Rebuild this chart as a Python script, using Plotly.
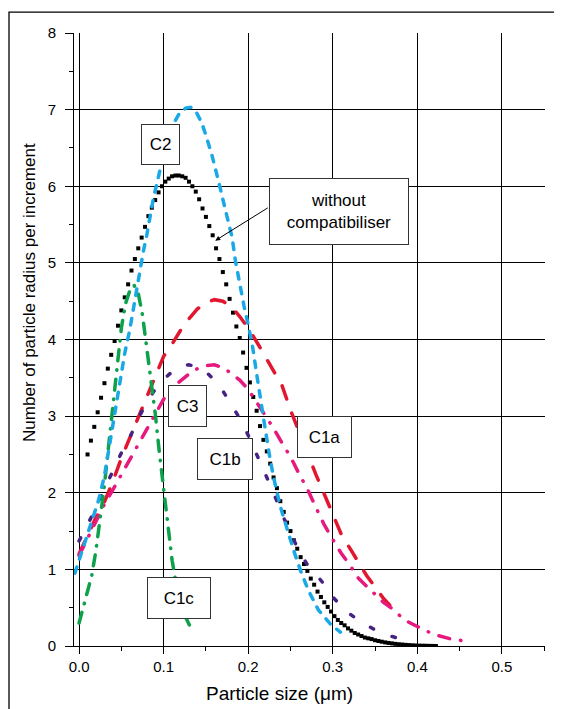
import plotly.graph_objects as go

# values: particle size (um) vs number per increment
black_x = [0.010, 0.014, 0.018, 0.022, 0.026, 0.030, 0.034, 0.038, 0.042, 0.046,
           0.050, 0.054, 0.058, 0.062, 0.066, 0.070, 0.074, 0.078, 0.082, 0.086,
           0.090, 0.094, 0.098, 0.102, 0.106, 0.110, 0.114, 0.118, 0.122, 0.126,
           0.130, 0.134, 0.138, 0.142, 0.146, 0.150, 0.154, 0.158, 0.162, 0.166,
           0.170, 0.174, 0.178, 0.182, 0.186, 0.190, 0.194, 0.198, 0.202, 0.206,
           0.210, 0.214, 0.218, 0.222, 0.226, 0.230, 0.234, 0.238, 0.242, 0.246,
           0.250, 0.254, 0.258, 0.262, 0.266, 0.270, 0.274, 0.278, 0.282, 0.286,
           0.290, 0.294, 0.298, 0.302, 0.306, 0.310, 0.314, 0.318, 0.322, 0.326,
           0.330, 0.334, 0.338, 0.342, 0.346, 0.350, 0.354, 0.358, 0.362, 0.366,
           0.370, 0.374, 0.378, 0.382, 0.386, 0.390, 0.394, 0.398, 0.402, 0.406,
           0.410, 0.414, 0.418, 0.422]
black_y = [2.50, 2.68, 2.86, 3.05, 3.24, 3.43, 3.62, 3.80, 3.98, 4.18,
           4.38, 4.55, 4.72, 4.90, 5.05, 5.19, 5.33, 5.47, 5.61, 5.72,
           5.82, 5.92, 6.00, 6.06, 6.10, 6.13, 6.14, 6.14, 6.13, 6.11,
           6.06, 6.00, 5.93, 5.83, 5.71, 5.60, 5.48, 5.36, 5.19, 5.05,
           4.88, 4.72, 4.53, 4.35, 4.17, 4.02, 3.83, 3.63, 3.44, 3.25,
           3.07, 2.87, 2.69, 2.54, 2.38, 2.20, 2.06, 1.89, 1.75, 1.61,
           1.50, 1.38, 1.27, 1.16, 1.07, 0.98, 0.88, 0.80, 0.71, 0.64,
           0.57, 0.51, 0.45, 0.39, 0.34, 0.30, 0.27, 0.23, 0.20, 0.17,
           0.15, 0.13, 0.11, 0.10, 0.09, 0.075, 0.065, 0.056, 0.047, 0.040,
           0.034, 0.028, 0.023, 0.019, 0.015, 0.012, 0.009, 0.007, 0.005, 0.004,
           0.003, 0.002, 0.001, 0.0]

c2_x = [-0.005, 0.001, 0.006, 0.015, 0.023, 0.030, 0.036, 0.041, 0.045, 0.050,
        0.054, 0.060, 0.064, 0.069, 0.072, 0.076, 0.080, 0.084, 0.088, 0.093,
        0.097, 0.102, 0.110, 0.118, 0.126, 0.132, 0.138, 0.145, 0.151, 0.157,
        0.163, 0.169, 0.175, 0.181, 0.185, 0.190, 0.195, 0.200, 0.205, 0.210,
        0.215, 0.220, 0.225, 0.230, 0.238, 0.246, 0.254, 0.262, 0.271, 0.283,
        0.297, 0.309]
c2_y = [0.95, 1.15, 1.32, 1.65, 1.90, 2.22, 2.62, 2.92, 3.20, 3.52,
        3.82, 4.13, 4.39, 4.66, 4.92, 5.15, 5.36, 5.60, 5.85, 6.08,
        6.28, 6.52, 6.78, 6.94, 7.02, 7.03, 6.98, 6.83, 6.63, 6.41,
        6.15, 5.89, 5.62, 5.33, 5.02, 4.70, 4.44, 4.19, 3.92, 3.55,
        3.17, 2.84, 2.50, 2.20, 1.82, 1.51, 1.24, 0.98, 0.73, 0.47,
        0.29, 0.18]

c1c_x = [0.000, 0.005, 0.010, 0.015, 0.020, 0.025, 0.030, 0.035, 0.040, 0.045,
         0.050, 0.055, 0.060, 0.065, 0.070, 0.075, 0.080, 0.085, 0.090, 0.095,
         0.100, 0.105, 0.110, 0.115, 0.120, 0.125, 0.130, 0.135]
c1c_y = [0.30, 0.50, 0.68, 0.92, 1.25, 1.66, 2.10, 2.62, 3.12, 3.70,
         4.15, 4.47, 4.64, 4.71, 4.60, 4.32, 3.90, 3.44, 3.04, 2.52,
         2.06, 1.54, 1.12, 0.80, 0.56, 0.40, 0.28, 0.17]

c1a_x = [0.00, 0.01, 0.02, 0.03, 0.04, 0.05, 0.06, 0.07, 0.08, 0.09,
         0.10, 0.11, 0.12, 0.13, 0.14, 0.15, 0.16, 0.17, 0.18, 0.19,
         0.20, 0.21, 0.22, 0.23, 0.24, 0.25, 0.26, 0.27, 0.28, 0.29,
         0.30, 0.31, 0.32, 0.33, 0.34, 0.35, 0.36, 0.37, 0.378]
c1a_y = [1.20, 1.45, 1.68, 1.88, 2.15, 2.45, 2.72, 2.98, 3.25, 3.52,
         3.78, 3.94, 4.12, 4.27, 4.40, 4.48, 4.52, 4.50, 4.43, 4.30,
         4.15, 3.97, 3.78, 3.58, 3.40, 3.08, 2.80, 2.50, 2.24, 1.98,
         1.73, 1.46, 1.28, 1.10, 0.92, 0.77, 0.62, 0.50, 0.42]

c1b_x = [0.00, 0.01, 0.02, 0.03, 0.04, 0.05, 0.06, 0.07, 0.08, 0.09,
         0.10, 0.11, 0.12, 0.13, 0.14, 0.15, 0.16, 0.17, 0.18, 0.19,
         0.20, 0.21, 0.22, 0.23, 0.24, 0.25, 0.26, 0.27, 0.28, 0.29,
         0.30, 0.31, 0.32, 0.33, 0.34, 0.35, 0.36, 0.37, 0.38, 0.388]
c1b_y = [1.37, 1.58, 1.80, 2.05, 2.28, 2.52, 2.72, 2.97, 3.18, 3.35,
         3.48, 3.58, 3.65, 3.67, 3.64, 3.58, 3.47, 3.33, 3.15, 2.97,
         2.75, 2.50, 2.26, 2.00, 1.72, 1.48, 1.24, 1.06, 0.94, 0.80,
         0.64, 0.52, 0.42, 0.34, 0.27, 0.21, 0.16, 0.12, 0.09, 0.07]

c3_x = [0.00, 0.01, 0.02, 0.03, 0.04, 0.05, 0.06, 0.07, 0.08, 0.09,
        0.10, 0.11, 0.12, 0.13, 0.14, 0.15, 0.16, 0.17, 0.18, 0.19,
        0.20, 0.21, 0.22, 0.23, 0.24, 0.25, 0.26, 0.27, 0.28, 0.29,
        0.30, 0.31, 0.32, 0.33, 0.34, 0.35, 0.36, 0.37, 0.38, 0.39,
        0.40, 0.41, 0.42, 0.43, 0.44, 0.45, 0.457]
c3_y = [1.18, 1.40, 1.62, 1.85, 2.04, 2.24, 2.44, 2.63, 2.82, 3.03,
        3.22, 3.37, 3.46, 3.55, 3.62, 3.66, 3.67, 3.63, 3.56, 3.47,
        3.35, 3.18, 3.02, 2.84, 2.65, 2.47, 2.25, 2.05, 1.81, 1.58,
        1.39, 1.21, 1.06, 0.89, 0.78, 0.67, 0.57, 0.49, 0.39, 0.31,
        0.25, 0.20, 0.15, 0.12, 0.09, 0.075, 0.065]

box_labels = ["C2", "without<br>compatibiliser", "C3", "C1b", "C1a", "C1c"]
x_title = "Particle size (μm)"
y_title = "Number of particle radius per increment"

FONT = "Liberation Sans, Arial, sans-serif"

fig = go.Figure()
fig.add_trace(go.Scatter(x=black_x, y=black_y, mode="markers",
                         marker=dict(symbol="square", size=4, color="black")))
fig.add_trace(go.Scatter(x=c1a_x, y=c1a_y, mode="lines",
                         line=dict(color="#E3162F", width=3.5, dash="14px,15px")))
fig.add_trace(go.Scatter(x=c3_x, y=c3_y, mode="lines",
                         line=dict(color="#E6197F", width=3.5, dash="11px,11px,0.5px,11px")))
fig.add_trace(go.Scatter(x=c1b_x, y=c1b_y, mode="lines",
                         line=dict(color="#462383", width=3.5, dash="3.5px,20px")))
fig.add_trace(go.Scatter(x=c1c_x, y=c1c_y, mode="lines",
                         line=dict(color="#0DA14B", width=3.5, dash="11px,9px,0.5px,9px")))
fig.add_trace(go.Scatter(x=c2_x, y=c2_y, mode="lines",
                         line=dict(color="#1AA8E6", width=3.5, dash="6.5px,8.5px")))
# empty trace so the grid-only overlay axis gets drawn
fig.add_trace(go.Scatter(x=[None], y=[None], yaxis="y2", mode="lines",
                         hoverinfo="skip"))

# label boxes: (x, y, width, height)
box_spots = [(0.0964, 6.55, 37, 39), (0.3077, 5.67, 138, 65), (0.1284, 3.13, 37, 40),
             (0.1728, 2.44, 54, 40), (0.2905, 2.73, 53, 40), (0.1183, 0.63, 62, 40)]
for txt, (bx, by, bw, bh) in zip(box_labels, box_spots):
    fig.add_annotation(x=bx, y=by, xref="x", yref="y", text=txt, showarrow=False,
                       width=bw, height=bh, borderpad=0, borderwidth=1,
                       bordercolor="#333", bgcolor="white",
                       font=dict(family=FONT, size=17, color="black"))

fig.add_annotation(x=0.161, y=5.29, ax=0.2249, ay=5.73, xref="x", yref="y",
                   axref="x", ayref="y", text="", showarrow=True,
                   arrowhead=2, arrowsize=1, arrowwidth=1, arrowcolor="black")

fig.add_annotation(x=0.4363, y=-0.0767, xref="paper", yref="paper", text=x_title,
                   xanchor="center", yanchor="middle", showarrow=False,
                   font=dict(family=FONT, size=19, color="black"))
fig.add_annotation(x=-0.0934, y=0.576, xref="paper", yref="paper", text=y_title,
                   xanchor="center", yanchor="middle", textangle=-90, showarrow=False,
                   font=dict(family=FONT, size=17, color="black"))

# outer frame, open on the right and bottom
fig.add_shape(type="rect", xref="paper", yref="paper", x0=-0.138, x1=1.3,
              y0=-0.3, y1=1.034, line=dict(color="black", width=1.3))

# margins allow for the 8px body margin of the html page
fig.update_layout(
    width=562, height=709,
    margin=dict(l=66, r=25, t=25, b=71),
    plot_bgcolor="white", paper_bgcolor="white",
    showlegend=False,
    font=dict(family=FONT, size=15, color="black"),
    xaxis=dict(range=[-0.006, 0.551], tick0=0, dtick=0.1, tickformat=".1f",
               ticks="outside", ticklen=7, tickcolor="black",
               showline=True, linecolor="black", linewidth=1,
               showgrid=True, gridcolor="black", gridwidth=1, zeroline=False,
               minor=dict(tick0=0, dtick=0.05, ticks="outside", ticklen=4,
                          tickcolor="black", showgrid=False)),
    yaxis=dict(range=[0, 8], tick0=0, dtick=1, ticks="outside", ticklen=8,
               tickcolor="black", showline=True, linecolor="black", linewidth=1,
               showgrid=False, zeroline=False, ticklabelstandoff=6,
               minor=dict(tick0=0, dtick=0.5, ticks="outside", ticklen=4,
                          tickcolor="black", showgrid=False)),
    yaxis2=dict(range=[0, 8], overlaying="y", anchor="x", side="left",
                tickvals=[1, 2, 3, 4, 5, 6, 7], showticklabels=False, ticks="",
                showgrid=True, gridcolor="black", gridwidth=1,
                showline=False, zeroline=False),
)

round_caps = ("document.querySelectorAll('.scatterlayer .js-line')"
              ".forEach(function(p){p.style.strokeLinecap='round';});")
fig.write_html("out.html", post_script=round_caps)
